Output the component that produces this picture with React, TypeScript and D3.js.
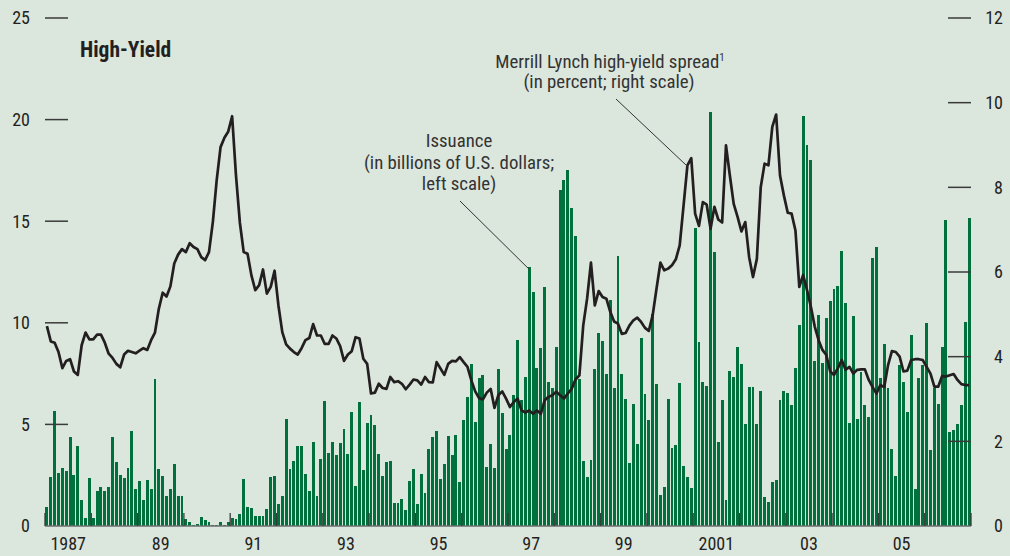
import React, { useRef, useEffect } from 'react';
import * as d3 from 'd3';

// monthly, Jan 1987 - Dec 2006
const startYear = 1987;

// high-yield issuance, billions of U.S. dollars (left scale)
const issuance = [
  0.92, 2.4, 5.64, 2.59, 2.84, 2.69, 4.36, 2.49, 3.92, 1.26, 0.38, 2.35,
  0.38, 1.7, 1.9, 1.7, 1.9, 4.36, 3.13, 2.49, 2.35, 2.84, 4.66, 1.8,
  2.2, 1.26, 2.25, 1.8, 7.22, 2.79, 2.44, 1.5, 1.8, 3.03, 1.46, 1.46,
  0.33, 0.2, 0.03, 0.08, 0.43, 0.28, 0.18, 0.03, 0.03, 0.18, 0.03, 0.18,
  0.38, 0.33, 0.57, 2.3, 0.92, 0.87, 0.48, 0.48, 0.48, 0.82, 2.4, 2.44,
  1.07, 1.46, 5.25, 2.79, 3.18, 3.92, 3.92, 2.54, 1.7, 4.12, 1.5, 3.28,
  6.13, 3.58, 4.12, 3.48, 4.07, 4.76, 3.53, 5.6, 1.95, 6.09, 2.74, 5.05,
  5.45, 4.95, 3.53, 2.44, 3.13, 3.18, 1.12, 1.12, 1.31, 0.77, 2.2, 2.79,
  1.07, 2.54, 1.6, 3.77, 4.36, 4.66, 2.3, 3.03, 4.41, 3.48, 4.46, 2.15,
  5.2, 6.33, 7.96, 5.1, 7.27, 7.41, 2.89, 4.02, 2.84, 7.71, 5.54, 3.77,
  4.46, 6.43, 9.14, 6.18, 7.32, 12.73, 11.5, 7.76, 8.74, 11.75, 7.07, 6.77,
  8.79, 16.52, 17.01, 17.5, 15.63, 14.26, 7.22, 3.18, 2.4, 3.23, 7.71, 9.48,
  9.09, 7.46, 11.1, 6.77, 13.27, 7.46, 6.23, 3.08, 5.99, 4.02, 9.24, 6.48,
  5.2, 10.42, 6.97, 1.51, 1.9, 6.23, 3.82, 3.97, 7.02, 2.94, 2.4, 1.85,
  14.65, 9.04, 7.07, 6.87, 20.36, 13.47, 4.12, 6.18, 1.26, 7.61, 7.32, 8.79,
  7.96, 5.0, 6.82, 6.82, 5.0, 6.63, 1.41, 1.16, 2.15, 2.25, 6.18, 6.63,
  6.53, 5.94, 7.76, 9.88, 20.16, 18.73, 18.0, 8.1, 10.37, 8.0, 10.22, 11.06,
  11.65, 11.79, 13.52, 10.96, 5.05, 10.32, 5.25, 7.56, 5.94, 5.35, 13.17, 13.71,
  7.27, 8.94, 6.77, 3.77, 2.44, 7.91, 7.07, 5.59, 9.38, 1.8, 7.27, 7.9,
  9.97, 3.72, 6.77, 5.99, 8.79, 15.04, 4.61, 4.71, 5.0, 5.94, 10.02, 15.14,
];

// Merrill Lynch high-yield spread, percent (right scale)
const spread = [
  4.72, 4.36, 4.33, 4.11, 3.73, 3.9, 3.94, 3.65, 3.57, 4.27, 4.57, 4.41,
  4.41, 4.52, 4.52, 4.33, 4.07, 3.97, 3.83, 3.75, 4.05, 4.14, 4.11, 4.08,
  4.14, 4.2, 4.16, 4.39, 4.57, 5.13, 5.51, 5.42, 5.66, 6.2, 6.41, 6.54,
  6.47, 6.68, 6.59, 6.54, 6.35, 6.28, 6.47, 7.18, 8.17, 8.95, 9.17, 9.32,
  9.68, 8.28, 7.17, 6.47, 6.43, 5.92, 5.57, 5.69, 6.06, 5.49, 5.65, 6.03,
  5.21, 4.58, 4.29, 4.19, 4.11, 4.05, 4.2, 4.39, 4.44, 4.77, 4.5, 4.5,
  4.3, 4.3, 4.5, 4.43, 4.25, 3.9, 4.05, 4.13, 4.46, 4.43, 3.95, 3.83,
  3.13, 3.15, 3.36, 3.26, 3.24, 3.52, 3.4, 3.42, 3.36, 3.23, 3.34, 3.46,
  3.44, 3.34, 3.52, 3.4, 3.39, 3.87, 3.72, 3.57, 3.83, 3.9, 3.89, 3.99,
  3.87, 3.76, 3.44, 3.18, 3.02, 2.99, 3.15, 3.24, 2.79, 3.09, 3.18, 3.01,
  2.81, 2.93, 3.01, 2.73, 2.68, 2.73, 2.65, 2.73, 2.65, 2.97, 3.05, 3.09,
  3.17, 3.09, 3.01, 3.13, 3.24, 3.46, 3.56, 4.74, 5.37, 6.22, 5.21, 5.55,
  5.41, 5.37, 5.06, 4.83, 4.78, 4.54, 4.56, 4.74, 4.86, 4.92, 4.82, 4.68,
  4.61, 4.98, 5.61, 6.22, 6.04, 6.08, 6.16, 6.3, 6.63, 7.57, 8.52, 8.69,
  7.38, 7.09, 7.65, 7.59, 7.02, 7.54, 7.24, 7.17, 8.99, 8.28, 7.61, 7.3,
  6.96, 7.18, 6.35, 5.88, 6.31, 8.0, 8.56, 8.52, 9.43, 9.72, 8.28, 7.81,
  7.4, 7.38, 6.98, 5.65, 5.93, 5.57, 5.18, 4.71, 4.39, 4.16, 4.04, 3.65,
  3.57, 3.73, 3.92, 3.69, 3.76, 3.6, 3.69, 3.7, 3.7, 3.45, 3.28, 3.13,
  3.33, 3.28, 3.8, 4.13, 4.11, 4.0, 3.65, 3.67, 3.92, 3.94, 3.94, 3.92,
  3.76, 3.6, 3.29, 3.29, 3.54, 3.53, 3.56, 3.59, 3.45, 3.35, 3.33, 3.33,
];

const leftTicks = [0, 5, 10, 15, 20, 25];
const rightTicks = [0, 2, 4, 6, 8, 10, 12];
const yearLabels = ['1987', '89', '91', '93', '95', '97', '99', '2001', '03', '05'];

const W = 1010;
const H = 556;
const FONT = '"Liberation Sans Narrow", "Arial Narrow", "Roboto Condensed", "Liberation Sans", sans-serif';
const INK = '#231f20';

const HighYieldChart = () => {
  const ref = useRef(null);

  useEffect(() => {
    if (!ref.current) return;
    const svg = d3.select(ref.current);
    svg.selectAll('*').remove();

    const left = 45, right = 971, top = 18, bottom = 526;
    const months = d3.range(issuance.length);

    const x = d3.scaleBand().domain(months).range([left, right]).paddingInner(0.25).paddingOuter(0.125);
    const xm = d3.scaleLinear().domain([0, months.length]).range([left, right]);
    const yL = d3.scaleLinear().domain([0, 25]).range([bottom, top]);
    const yR = d3.scaleLinear().domain([0, 12]).range([bottom, top]);
    const cx = i => x(i) + x.bandwidth() / 2;

    svg.append('rect').attr('width', W).attr('height', H).attr('fill', '#dbe6dd');

    // bars
    svg.append('g')
      .attr('shape-rendering', 'crispEdges')
      .selectAll('rect')
      .data(issuance)
      .enter().append('rect')
      .attr('x', (d, i) => x(i))
      .attr('width', x.bandwidth())
      .attr('y', d => yL(d))
      .attr('height', d => bottom - yL(d))
      .attr('fill', '#00703c');

    // spread line
    const line = d3.line().x((d, i) => cx(i)).y(d => yR(d));
    svg.append('path')
      .datum(spread)
      .attr('d', line)
      .attr('fill', 'none')
      .attr('stroke', INK)
      .attr('stroke-width', 2.7)
      .attr('stroke-linejoin', 'round');

    // x axis
    svg.append('line')
      .attr('x1', left).attr('x2', right).attr('y1', bottom).attr('y2', bottom)
      .attr('stroke', '#6d6e71').attr('stroke-width', 1.5);

    const years = d3.range(0, months.length / 12 + 1);
    svg.append('g').selectAll('line')
      .data(years)
      .enter().append('line')
      .attr('x1', k => xm(k * 12)).attr('x2', k => xm(k * 12))
      .attr('y1', bottom).attr('y2', bottom - 13)
      .attr('stroke', '#3a3a3a').attr('stroke-width', 1.3);

    svg.append('g').selectAll('text')
      .data(yearLabels)
      .enter().append('text')
      .attr('x', (d, k) => xm(k * 24 + 6))
      .attr('y', 550)
      .attr('text-anchor', 'middle')
      .attr('font-family', FONT)
      .attr('font-size', 18)
      .attr('fill', INK)
      .text(d => d);

    // left axis
    svg.append('g').selectAll('line')
      .data(leftTicks.filter(t => t > 0))
      .enter().append('line')
      .attr('x1', left).attr('x2', 68)
      .attr('y1', d => yL(d)).attr('y2', d => yL(d))
      .attr('stroke', '#3a3a3a').attr('stroke-width', 1.5);

    svg.append('g').selectAll('text')
      .data(leftTicks)
      .enter().append('text')
      .attr('x', 30)
      .attr('y', d => yL(d))
      .attr('dy', '0.35em')
      .attr('text-anchor', 'end')
      .attr('font-family', FONT)
      .attr('font-size', 18)
      .attr('fill', INK)
      .text(d => d);

    // right axis
    svg.append('g').selectAll('line')
      .data(rightTicks.filter(t => t > 0))
      .enter().append('line')
      .attr('x1', 948).attr('x2', right)
      .attr('y1', d => yR(d)).attr('y2', d => yR(d))
      .attr('stroke', '#3a3a3a').attr('stroke-width', 1.5);

    svg.append('g').selectAll('text')
      .data(rightTicks)
      .enter().append('text')
      .attr('x', 1003)
      .attr('y', d => yR(d))
      .attr('dy', '0.35em')
      .attr('text-anchor', 'end')
      .attr('font-family', FONT)
      .attr('font-size', 18)
      .attr('fill', INK)
      .text(d => d);

    // title
    svg.append('text')
      .attr('x', 80).attr('y', 57)
      .attr('font-family', FONT)
      .attr('font-size', 21.5)
      .attr('font-weight', 'bold')
      .attr('fill', INK)
      .text('High-Yield');

    // annotations
    const note = svg.append('g')
      .attr('font-family', FONT)
      .attr('font-size', 18.8)
      .attr('fill', '#333')
      .attr('text-anchor', 'middle');

    const ml = note.append('text').attr('x', 610).attr('y', 68);
    ml.append('tspan').text('Merrill Lynch high-yield spread');
    ml.append('tspan').attr('font-size', 11).attr('dy', -7).text('1');
    note.append('text').attr('x', 609).attr('y', 88).text('(in percent; right scale)');

    note.append('text').attr('x', 459).attr('y', 147).text('Issuance');
    note.append('text').attr('x', 459).attr('y', 169).text('(in billions of U.S. dollars;');
    note.append('text').attr('x', 459).attr('y', 190).text('left scale)');

    // leader lines
    const issIdx = 125;
    const sprIdx = 166;
    svg.append('line')
      .attr('x1', 460).attr('y1', 201)
      .attr('x2', cx(issIdx)).attr('y2', yL(issuance[issIdx]) + 2)
      .attr('stroke', '#333').attr('stroke-width', 1);
    svg.append('line')
      .attr('x1', 616).attr('y1', 99)
      .attr('x2', cx(sprIdx)).attr('y2', yR(spread[sprIdx]) + 1)
      .attr('stroke', '#333').attr('stroke-width', 1);
  }, []);

  return <svg ref={ref} width={W} height={H} style={{ position: 'absolute', left: 0, top: 0, display: 'block' }} />;
};

export default function App() {
  return <HighYieldChart />;
}
